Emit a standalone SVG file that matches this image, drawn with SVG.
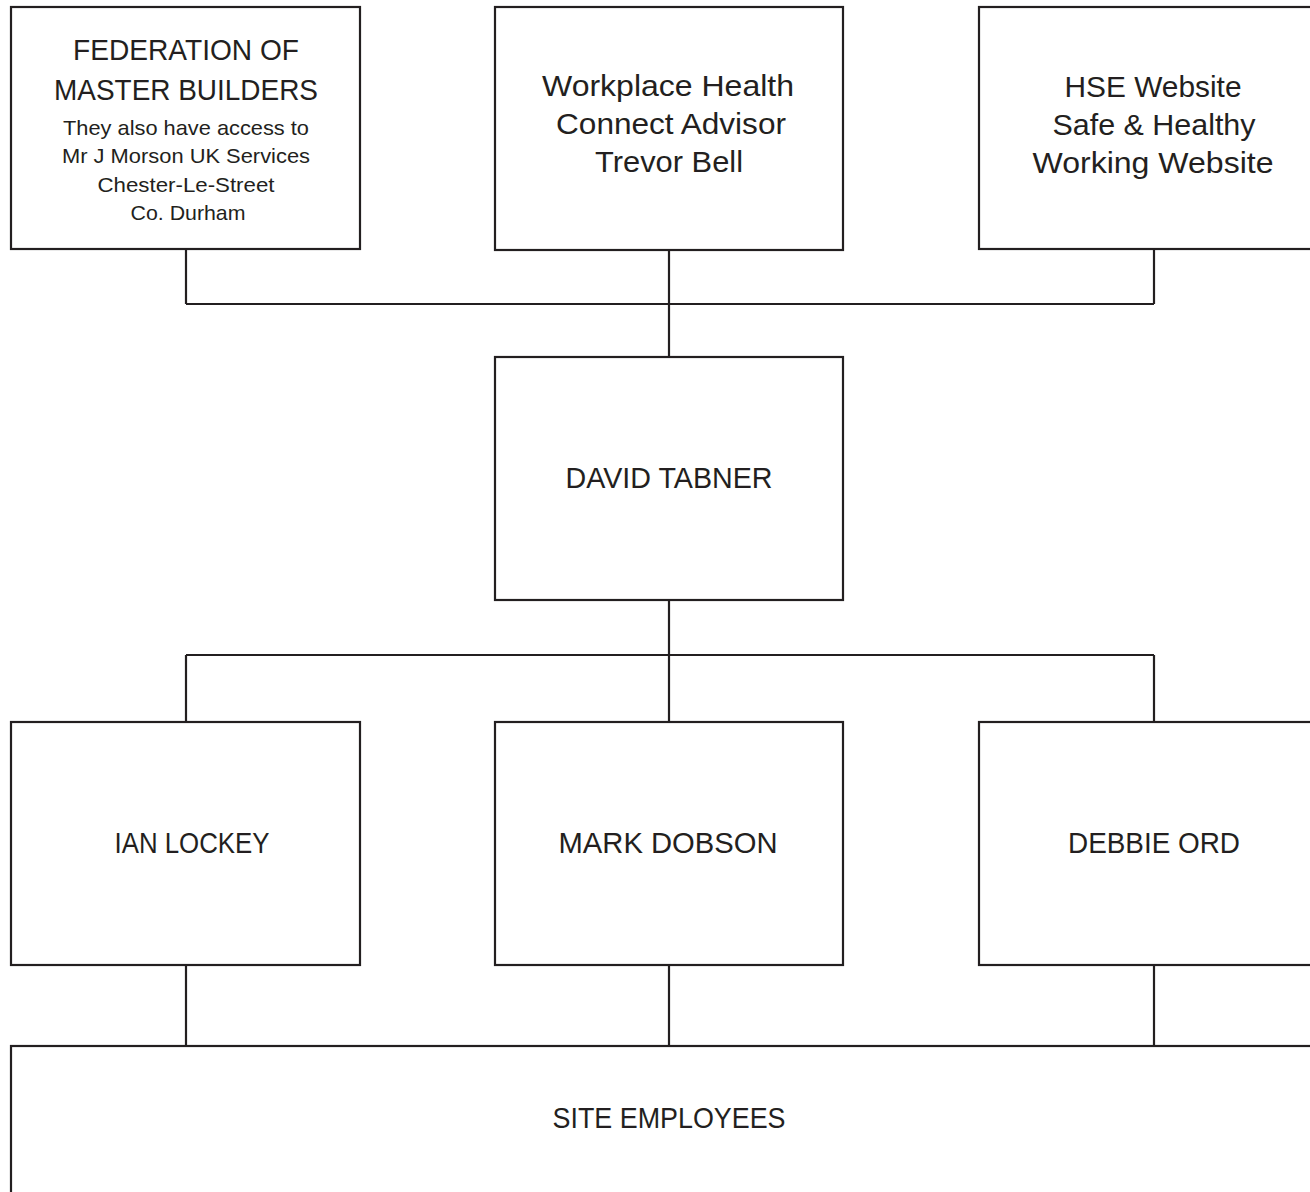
<svg xmlns="http://www.w3.org/2000/svg" width="1310" height="1192" viewBox="0 0 1310 1192">
<style>
.box{fill:#ffffff;stroke:#231f20;stroke-width:2.2}
.con{fill:none;stroke:#231f20;stroke-width:2.2}
text{font-family:"Liberation Sans",Arial,sans-serif;fill:#231f20;text-anchor:middle}
.big{font-size:29px}
.sm{font-size:21px}
</style>
<rect width="1310" height="1192" fill="#ffffff"/>
<g id="connectors">
<path class="con" d="M186,249V304M1154,249V304M186,304H1154M669,250V357"/>
<path class="con" d="M669,600V722M186,655H1154M186,655V722M1154,655V722"/>
<path class="con" d="M186,965V1046M669,965V1046M1154,965V1046"/>
</g>
<g id="fmb">
<rect class="box" x="11" y="7" width="349" height="242"/>
<text class="big" x="186" y="60" textLength="226" lengthAdjust="spacingAndGlyphs">FEDERATION OF</text>
<text class="big" x="186" y="100" textLength="264" lengthAdjust="spacingAndGlyphs">MASTER BUILDERS</text>
<text class="sm" x="186" y="135" textLength="246" lengthAdjust="spacingAndGlyphs">They also have access to</text>
<text class="sm" x="186" y="163" textLength="248" lengthAdjust="spacingAndGlyphs">Mr J Morson UK Services</text>
<text class="sm" x="186" y="192" textLength="177" lengthAdjust="spacingAndGlyphs">Chester-Le-Street</text>
<text class="sm" x="188" y="220" textLength="115" lengthAdjust="spacingAndGlyphs">Co. Durham</text>
</g>
<g id="whc">
<rect class="box" x="495" y="7" width="348" height="243"/>
<text class="big" x="668" y="96" textLength="252" lengthAdjust="spacingAndGlyphs">Workplace Health</text>
<text class="big" x="671" y="134" textLength="230" lengthAdjust="spacingAndGlyphs">Connect Advisor</text>
<text class="big" x="669" y="172" textLength="148" lengthAdjust="spacingAndGlyphs">Trevor Bell</text>
</g>
<g id="hse">
<rect class="box" x="979" y="7" width="341" height="242"/>
<text class="big" x="1153" y="97" textLength="177" lengthAdjust="spacingAndGlyphs">HSE Website</text>
<text class="big" x="1154" y="135" textLength="203" lengthAdjust="spacingAndGlyphs">Safe &amp; Healthy</text>
<text class="big" x="1153" y="173" textLength="241" lengthAdjust="spacingAndGlyphs">Working Website</text>
</g>
<g id="david">
<rect class="box" x="495" y="357" width="348" height="243"/>
<text class="big" x="669" y="488" textLength="207" lengthAdjust="spacingAndGlyphs">DAVID TABNER</text>
</g>
<g id="ian">
<rect class="box" x="11" y="722" width="349" height="243"/>
<text class="big" x="192" y="853" textLength="155" lengthAdjust="spacingAndGlyphs">IAN LOCKEY</text>
</g>
<g id="mark">
<rect class="box" x="495" y="722" width="348" height="243"/>
<text class="big" x="668" y="853" textLength="219" lengthAdjust="spacingAndGlyphs">MARK DOBSON</text>
</g>
<g id="debbie">
<rect class="box" x="979" y="722" width="341" height="243"/>
<text class="big" x="1154" y="853" textLength="172" lengthAdjust="spacingAndGlyphs">DEBBIE ORD</text>
</g>
<g id="site">
<rect class="box" x="11" y="1046" width="1309" height="160"/>
<text class="big" x="669" y="1128" textLength="233" lengthAdjust="spacingAndGlyphs">SITE EMPLOYEES</text>
</g>
</svg>
